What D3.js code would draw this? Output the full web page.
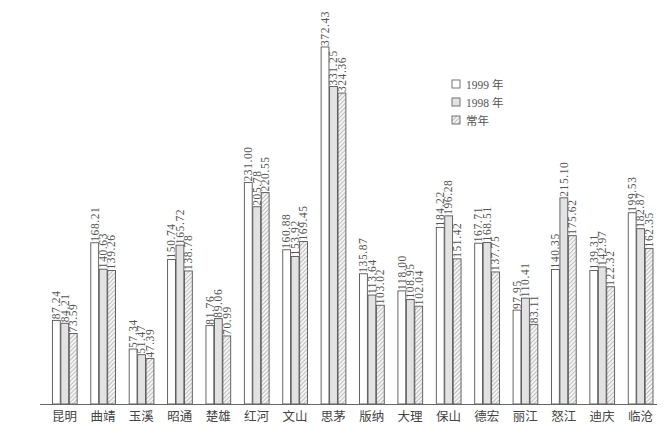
<!DOCTYPE html>
<html><head><meta charset="utf-8">
<script src="https://cdn.jsdelivr.net/npm/d3@7/dist/d3.min.js"></script>
<style>body{margin:0;background:#fff}</style>
</head><body>
<svg id="c" width="671" height="440"></svg>
<script>
const categories = ["昆明","曲靖","玉溪","昭通","楚雄","红河","文山","思茅","版纳","大理","保山","德宏","丽江","怒江","迪庆","临沧"];
const series = ["1999 年","1998 年","常年"];
const v1999 = [87.24,168.21,57.34,150.74,81.76,231.00,160.88,372.43,135.87,118.00,184.22,167.71,97.95,140.35,139.31,199.53];
const v1998 = [84.21,140.63,51.47,165.72,89.06,205.78,153.92,331.25,113.64,108.95,196.28,168.51,110.41,215.10,142.97,182.87];
const vNormal = [73.59,139.26,47.39,138.78,70.99,220.55,169.45,324.36,103.02,102.04,151.42,137.75,83.11,175.62,122.32,162.35];

const svg = d3.select("#c");
const defs = svg.append("defs");
const pat = defs.append("pattern").attr("id","hatch").attr("patternUnits","userSpaceOnUse")
  .attr("width",3).attr("height",3).attr("patternTransform","rotate(45)");
pat.append("rect").attr("width",3).attr("height",3).attr("fill","#f4f4f4");
pat.append("line").attr("x1",0).attr("y1",0).attr("x2",0).attr("y2",3).attr("stroke","#8a8a8a").attr("stroke-width",1);

const fills = ["#ffffff","#e2e2e2","url(#hatch)"];
const data = categories.map((c,i)=>({cat:c, vals:[v1999[i],v1998[i],vNormal[i]]}));

const base = 404;
const x0 = d3.scaleBand().domain(categories).range([45,660]).paddingInner(0.34).paddingOuter(0.18);
const x1 = d3.scaleBand().domain(d3.range(3)).range([0,x0.bandwidth()]);
const y = d3.scaleLinear().domain([0,372.43]).range([base,47]);

const g = svg.append("g").selectAll("g").data(data).join("g")
  .attr("transform",d=>`translate(${x0(d.cat)},0)`);
g.selectAll("rect").data(d=>d.vals).join("rect")
  .attr("x",(d,i)=>x1(i)+0.5).attr("y",d=>y(d))
  .attr("width",x1.bandwidth()-0.6).attr("height",d=>base-y(d))
  .attr("fill",(d,i)=>fills[i]).attr("stroke","#555").attr("stroke-width",0.9);
g.selectAll("text").data(d=>d.vals).join("text")
  .attr("transform",(d,i)=>`translate(${x1(i)+x1.bandwidth()/2+4},${y(d)-1}) rotate(-90)`)
  .attr("font-family","Liberation Serif, DejaVu Serif, serif").attr("font-size",11.5)
  .attr("fill","#555").attr("letter-spacing",0.6)
  .text(d=>d.toFixed(2));

const xAxis = d3.axisBottom(x0).tickSize(0).tickPadding(8);
const ax = svg.append("g").attr("transform",`translate(0,${base})`).call(xAxis);
ax.select(".domain").attr("d","M40,0.5H657").attr("stroke","#666");
ax.selectAll("text").attr("font-family","Noto Sans CJK SC, sans-serif").attr("font-size",12.5).attr("fill","#444");

const leg = svg.append("g").attr("transform","translate(452,80)");
series.forEach((s,i)=>{
  const r = leg.append("g").attr("transform",`translate(0,${i*18})`);
  r.append("rect").attr("x",0).attr("y",0).attr("width",8).attr("height",8)
    .attr("fill",fills[i]).attr("stroke","#666").attr("stroke-width",0.9);
  r.append("text").attr("x",14).attr("y",8.5).attr("font-family","Liberation Serif, Noto Sans CJK SC, serif")
    .attr("font-size",11.5).attr("fill","#555").text(s);
});
</script>
</body></html>
